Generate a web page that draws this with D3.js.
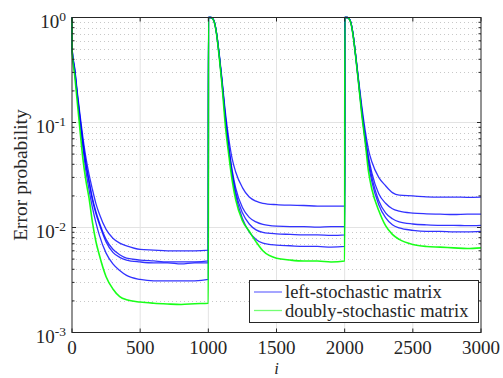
<!DOCTYPE html>
<html>
<head>
<meta charset="utf-8">
<script src="https://cdn.jsdelivr.net/npm/d3@7"></script>
<style>
  body { margin: 0; background: #fff; }
  svg { display: block; font-family: "Liberation Serif", "DejaVu Serif", serif; }
</style>
</head>
<body>
<div id="chart"></div>
<script>
// ITERATIONS (SAMPLED READINGS)
const iters = [
  0, 1, 20, 40, 60, 80, 100, 125, 150, 175, 200, 250, 300, 350, 400, 500, 600, 700, 800, 900, 1000,
  1001, 1020, 1040, 1060, 1080, 1100, 1125, 1150, 1175, 1200, 1250, 1300, 1350, 1400, 1500, 1600, 1700, 1800, 1900, 2000,
  2001, 2020, 2040, 2060, 2080, 2100, 2125, 2150, 2175, 2200, 2250, 2300, 2350, 2400, 2500, 2600, 2700, 2800, 2900, 3000
];

// LEFT-STOCHASTIC (4 CURVES)
const blueA = [
  1.0, 0.5, 0.33, 0.19, 0.115, 0.072, 0.048, 0.032, 0.023, 0.017, 0.0135, 0.0096, 0.0079, 0.0071, 0.0067, 0.0062, 0.0061, 0.006, 0.006, 0.006, 0.0061,
  1.0, 1.0, 0.94, 0.72, 0.45, 0.26, 0.125, 0.07, 0.045, 0.034, 0.024, 0.0195, 0.0178, 0.017, 0.0165, 0.0163, 0.0162, 0.016, 0.016, 0.016,
  1.0, 1.0, 0.94, 0.72, 0.45, 0.27, 0.145, 0.085, 0.055, 0.042, 0.03, 0.025, 0.0215, 0.0203, 0.02, 0.0196, 0.0195, 0.0195, 0.0194, 0.0195
];
const blueB = [
  1.0, 0.5, 0.32, 0.18, 0.108, 0.066, 0.043, 0.028, 0.019, 0.0142, 0.0112, 0.0077, 0.0062, 0.0055, 0.0051, 0.0049, 0.0048, 0.0047, 0.0047, 0.0047, 0.0048,
  1.0, 1.0, 0.94, 0.71, 0.44, 0.25, 0.115, 0.06, 0.035, 0.024, 0.0155, 0.0125, 0.0113, 0.0107, 0.0103, 0.0102, 0.0102, 0.0101, 0.0102, 0.0102,
  1.0, 1.0, 0.94, 0.71, 0.44, 0.26, 0.135, 0.075, 0.047, 0.033, 0.021, 0.017, 0.0151, 0.0143, 0.0137, 0.0135, 0.0134, 0.0133, 0.0134, 0.0134
];
const blueC = [
  1.0, 0.49, 0.31, 0.175, 0.104, 0.063, 0.041, 0.027, 0.0182, 0.0136, 0.0108, 0.0073, 0.0058, 0.0052, 0.0049, 0.0047, 0.0046, 0.0046, 0.0045, 0.0046, 0.0046,
  1.0, 1.0, 0.94, 0.71, 0.43, 0.245, 0.11, 0.057, 0.033, 0.022, 0.0138, 0.0108, 0.0095, 0.009, 0.0087, 0.0086, 0.0085, 0.0085, 0.0084, 0.0085,
  1.0, 1.0, 0.94, 0.71, 0.44, 0.255, 0.13, 0.07, 0.043, 0.03, 0.018, 0.0138, 0.0121, 0.0113, 0.0108, 0.0106, 0.0105, 0.0105, 0.0104, 0.0105
];
const blueD = [
  1.0, 0.48, 0.3, 0.17, 0.098, 0.058, 0.036, 0.023, 0.0155, 0.0112, 0.0085, 0.0057, 0.0045, 0.0039, 0.0035, 0.0032, 0.0031, 0.0031, 0.0031, 0.0031, 0.0032,
  1.0, 1.0, 0.93, 0.7, 0.43, 0.24, 0.105, 0.054, 0.031, 0.0205, 0.0122, 0.0091, 0.0077, 0.0071, 0.0068, 0.0067, 0.0066, 0.0066, 0.0065, 0.0066,
  1.0, 1.0, 0.93, 0.71, 0.43, 0.25, 0.125, 0.068, 0.04, 0.027, 0.0165, 0.0124, 0.0106, 0.0099, 0.0094, 0.0092, 0.0092, 0.0091, 0.0091, 0.0092
];

// DOUBLY-STOCHASTIC
const green = [
  1.0, 0.47, 0.28, 0.15, 0.081, 0.045, 0.029, 0.019, 0.0112, 0.0074, 0.0055, 0.0034, 0.0026, 0.0022, 0.00205, 0.00195, 0.0019, 0.00187, 0.00185, 0.00188, 0.0019,
  1.0, 1.0, 0.93, 0.7, 0.42, 0.23, 0.093, 0.049, 0.028, 0.0185, 0.0116, 0.0092, 0.0073, 0.006, 0.0051, 0.0049, 0.0048, 0.0048, 0.0047, 0.0048,
  1.0, 1.0, 0.93, 0.7, 0.43, 0.25, 0.12, 0.066, 0.034, 0.023, 0.0145, 0.0104, 0.0086, 0.0077, 0.0069, 0.0066, 0.0065, 0.0064, 0.0063, 0.0064
];

const xTicks = [0, 500, 1000, 1500, 2000, 2500, 3000];
const yDecades = [-3, -2, -1, 0];
const legendLabels = ["left-stochastic matrix", "doubly-stochastic matrix"];

const width = 503, height = 378;
const margin = { left: 72, right: 22, top: 17.5, bottom: 45.5 };

const svg = d3.select("#chart").append("svg")
    .attr("width", width)
    .attr("height", height);

const x = d3.scaleLinear().domain([0, 3000]).range([margin.left, width - margin.right]);
const y = d3.scaleLog().domain([1e-3, 1]).range([height - margin.bottom, margin.top]);

const x0 = x.range()[0], x1 = x.range()[1];
const yTop = y.range()[1], yBot = y.range()[0];

// MINOR VALUES (2..9 PER DECADE)
const minorVals = [];
yDecades.slice(0, 3).forEach(e => {
    for (let k = 2; k <= 9; k++) minorVals.push(k * Math.pow(10, e));
});

// GRID
const grid = svg.append("g");
grid.selectAll(".minor")
    .data(minorVals)
    .enter().append("line")
    .attr("x1", x0).attr("x2", x1)
    .attr("y1", d => Math.round(y(d)) + 0.5).attr("y2", d => Math.round(y(d)) + 0.5)
    .attr("stroke", "#c8c8c8")
    .attr("stroke-dasharray", "1,3");

grid.selectAll(".vmajor")
    .data(xTicks.slice(1, -1))
    .enter().append("line")
    .attr("x1", d => x(d)).attr("x2", d => x(d))
    .attr("y1", yTop).attr("y2", yBot)
    .attr("stroke", "#e3e3e3");

grid.selectAll(".hmajor")
    .data(yDecades.slice(1, 3).map(e => Math.pow(10, e)))
    .enter().append("line")
    .attr("x1", x0).attr("x2", x1)
    .attr("y1", d => y(d)).attr("y2", d => y(d))
    .attr("stroke", "#e3e3e3")
    .attr("stroke-width", 1.2);

// LINES
const line = d3.line()
    .x((d, i) => x(iters[i]))
    .y(d => y(d))
    .curve(d3.curveMonotoneX);

const plot = svg.append("g");
[blueA, blueB, blueC, blueD].forEach(s => {
    plot.append("path")
        .datum(s)
        .attr("d", line)
        .attr("fill", "none")
        .attr("stroke", "#0000ff")
        .attr("stroke-opacity", 0.8)
        .attr("stroke-width", 1.3);
});
plot.append("path")
    .datum(green)
    .attr("d", line)
    .attr("fill", "none")
    .attr("stroke", "#00ff00")
    .attr("stroke-opacity", 0.9)
    .attr("stroke-width", 1.6);

// AXES BOX AND TICKS
const ax = svg.append("g").attr("stroke", "#262626");
ax.append("rect")
    .attr("x", x0).attr("y", yTop)
    .attr("width", x1 - x0).attr("height", yBot - yTop)
    .attr("fill", "none")
    .attr("stroke-width", 1);

xTicks.forEach(t => {
    ax.append("line").attr("x1", x(t)).attr("x2", x(t)).attr("y1", yBot).attr("y2", yBot - 4);
    ax.append("line").attr("x1", x(t)).attr("x2", x(t)).attr("y1", yTop).attr("y2", yTop + 4);
});
yDecades.forEach(e => {
    const yy = y(Math.pow(10, e));
    ax.append("line").attr("x1", x0).attr("x2", x0 + 4).attr("y1", yy).attr("y2", yy);
    ax.append("line").attr("x1", x1).attr("x2", x1 - 4).attr("y1", yy).attr("y2", yy);
});
minorVals.forEach(v => {
    const yy = y(v);
    ax.append("line").attr("x1", x0).attr("x2", x0 + 2.5).attr("y1", yy).attr("y2", yy);
    ax.append("line").attr("x1", x1).attr("x2", x1 - 2.5).attr("y1", yy).attr("y2", yy);
});

// TICK LABELS
svg.append("g").selectAll("text")
    .data(xTicks)
    .enter().append("text")
    .attr("x", d => x(d))
    .attr("y", yBot + 21.5)
    .attr("text-anchor", "middle")
    .attr("font-size", 19)
    .attr("fill", "#262626")
    .text(d => d);

const yl = svg.append("g").selectAll("text")
    .data(yDecades)
    .enter().append("text")
    .attr("x", 66)
    .attr("y", d => y(Math.pow(10, d)) + 10)
    .attr("text-anchor", "end")
    .attr("font-size", 19)
    .attr("fill", "#262626");
yl.append("tspan").text("10");
yl.append("tspan")
    .attr("dy", -6.5)
    .attr("font-size", 13.5)
    .text(d => d === 0 ? "0" : "-" + Math.abs(d));

// AXIS LABELS
svg.append("text")
    .attr("x", (x0 + x1) / 2)
    .attr("y", 373.5)
    .attr("text-anchor", "middle")
    .attr("font-size", 16.5)
    .attr("font-style", "italic")
    .attr("fill", "#262626")
    .text("i");

svg.append("text")
    .attr("transform", `translate(27,${(yTop + yBot) / 2}) rotate(-90)`)
    .attr("text-anchor", "middle")
    .attr("font-size", 19.5)
    .attr("fill", "#262626")
    .text("Error probability");

// LEGEND
const lg = svg.append("g");
lg.append("rect")
    .attr("x", 249.5).attr("y", 280.5)
    .attr("width", 229).attr("height", 42)
    .attr("fill", "#fff")
    .attr("stroke", "#262626");
legendLabels.forEach((lab, k) => {
    const ly = 292 + k * 18.5;
    lg.append("line")
        .attr("x1", 254).attr("x2", 282)
        .attr("y1", ly).attr("y2", ly)
        .attr("stroke", k === 0 ? "#0000ff" : "#00ff00")
        .attr("stroke-opacity", 0.55)
        .attr("stroke-width", 1.3);
    lg.append("text")
        .attr("x", 285)
        .attr("y", ly + 6)
        .attr("font-size", 18.5)
        .attr("fill", "#262626")
        .text(lab);
});
</script>
</body>
</html>
